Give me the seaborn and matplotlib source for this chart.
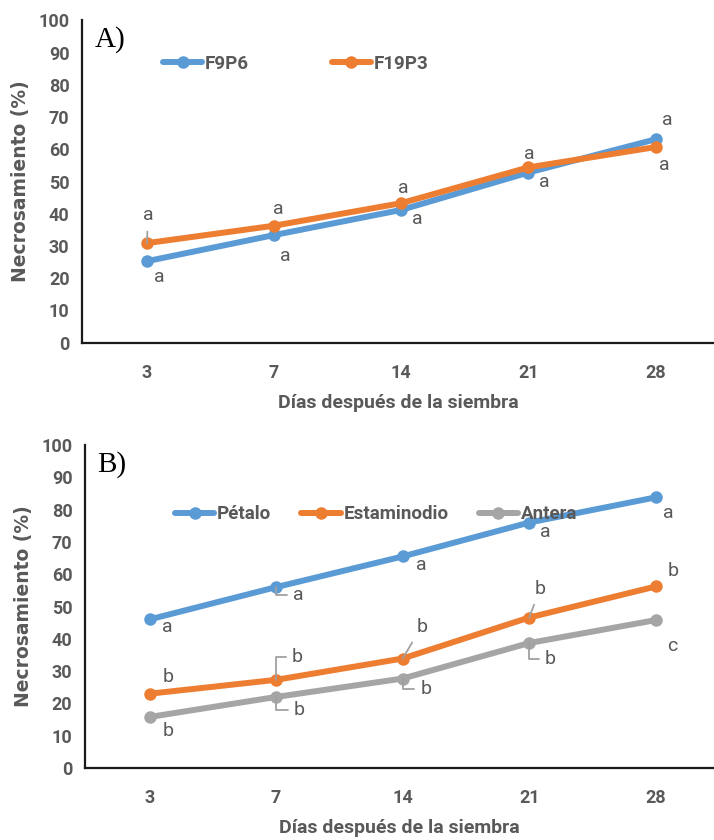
import numpy as np
import pandas as pd
import matplotlib
matplotlib.use("Agg")
import matplotlib.pyplot as plt
import seaborn as sns

# ---------------- data ----------------
days = ["3", "7", "14", "21", "28"]

a_series = ["F9P6", "F19P3"]
a_f9p6 = [25.3, 33.4, 41.2, 52.8, 63.1]
a_f19p3 = [30.9, 36.3, 43.3, 54.4, 60.7]
a_letters_f9p6 = ["a", "a", "a", "a", "a"]
a_letters_f19p3 = ["a", "a", "a", "a", "a"]

b_series = ["Pétalo", "Estaminodio", "Antera"]
b_petalo = [46.0, 56.0, 65.5, 76.0, 83.8]
b_estaminodio = [23.0, 27.3, 33.9, 46.6, 56.2]
b_antera = [15.8, 22.0, 27.7, 38.7, 45.8]
b_letters_petalo = ["a", "a", "a", "a", "a"]
b_letters_estaminodio = ["b", "b", "b", "b", "b"]
b_letters_antera = ["b", "b", "b", "b", "c"]

colors = {"F9P6": "#5B9BD5", "F19P3": "#ED7D31",
          "Pétalo": "#5B9BD5", "Estaminodio": "#ED7D31", "Antera": "#A5A5A5"}

# ---------------- style ----------------
sns.set_theme(style="white")
NARROW = ["Roboto", "DejaVu Sans"]
plt.rcParams["font.family"] = NARROW
TXT = "#595959"

fig = plt.figure(figsize=(7.14, 8.4), dpi=100)
axA = fig.add_axes([0.115, 0.592, 0.885, 0.3837])
axB = fig.add_axes([0.119, 0.0857, 0.881, 0.3845])


def long_df(names, values):
    rows = []
    for n, v in zip(names, values):
        for i, val in enumerate(v):
            rows.append({"pos": i, "val": val, "serie": n})
    return pd.DataFrame(rows)


def draw(ax, names, values, letters, offsets, leaders, panel, leg_anchor, colsp):
    df = long_df(names, values)
    sns.lineplot(data=df, x="pos", y="val", hue="serie", hue_order=names,
                 palette=[colors[n] for n in names], marker="o", markersize=9,
                 markeredgewidth=0, linewidth=4.3, ax=ax, legend=True)
    ax.set_xlim(-0.51, 4.46)
    ax.set_ylim(0, 100)
    ax.set_xticks(range(len(days)))
    ax.set_xticklabels(days)
    ax.set_yticks(range(0, 101, 10))
    for s in ["top", "right"]:
        ax.spines[s].set_visible(False)
    for s in ["left", "bottom"]:
        ax.spines[s].set_color("#1a1a1a")
        ax.spines[s].set_linewidth(1.6)
    ax.tick_params(axis="both", which="major", length=5, width=1.3,
                   color="#1a1a1a", labelsize=13, labelcolor=TXT, direction="out")
    ax.tick_params(axis="x", pad=10)
    ax.tick_params(axis="y", pad=4)
    for lab in ax.get_xticklabels() + ax.get_yticklabels():
        lab.set_fontweight("bold")
    ax.set_ylabel("Necrosamiento (%)", fontsize=13.5, fontweight="bold",
                  color=TXT, family=["DejaVu Sans"], labelpad=6)
    ax.set_xlabel("Días después de la siembra", fontsize=14, fontweight="bold",
                  color=TXT, labelpad=9)
    ax.text(0.02, 0.94, panel, transform=ax.transAxes, ha="left", va="center",
            fontsize=21, family=["Liberation Serif", "DejaVu Serif"], color="black")
    # letters
    for n, v, lets, offs, lds in zip(names, values, letters, offsets, leaders):
        for i, (val, let, off, ld) in enumerate(zip(v, lets, offs, lds)):
            kw = {}
            if ld == "bracket":
                kw["arrowprops"] = dict(arrowstyle="-", color="#A0A0A0", lw=1.3,
                                        connectionstyle="angle,angleA=0,angleB=90,rad=0",
                                        shrinkA=2, shrinkB=0)
            elif ld == "line":
                kw["arrowprops"] = dict(arrowstyle="-", color="#A0A0A0", lw=1.3,
                                        shrinkA=3, shrinkB=0)
            ax.annotate(let, xy=(i, val), xytext=off, textcoords="offset pixels",
                        ha="center", va="center", fontsize=14, color=TXT, **kw)
    # legend
    handles, labels = ax.get_legend_handles_labels()
    leg = ax.legend(handles, labels, loc="center left", bbox_to_anchor=leg_anchor,
                    ncol=len(names), frameon=False, handlelength=2.1,
                    handletextpad=0.15, columnspacing=colsp, borderaxespad=0,
                    borderpad=0, prop={"weight": "bold", "size": 13.5})
    for t in leg.get_texts():
        t.set_color(TXT)


offA = [[(12, -16), (11, -21), (16, -9), (16, -9), (12, 19)],
        [(1, 28), (4, 17), (2, 15), (1, 13), (9, -18)]]
ldA = [[None] * 5, ["line", None, None, None, None]]
draw(axA, a_series, [a_f9p6, a_f19p3], [a_letters_f9p6, a_letters_f19p3],
     offA, ldA, "A)", (0.128, 0.866), 4.4)

offB = [[(18, -8), (22, -8), (19, -9), (16, -9), (13, -16)],
        [(19, 17), (21, 23), (19, 32), (11, 29), (17, 15)],
        [(19, -14), (23, -13), (23, -10), (21, -16), (16, -26)]]
ldB = [[None, "bracket", None, None, None],
       [None, "bracket", "line", "line", None],
       [None, "bracket", "bracket", "bracket", None]]
draw(axB, b_series, [b_petalo, b_estaminodio, b_antera],
     [b_letters_petalo, b_letters_estaminodio, b_letters_antera],
     offB, ldB, "B)", (0.143, 0.786), 1.6)

fig.savefig("out.png", dpi=100)
